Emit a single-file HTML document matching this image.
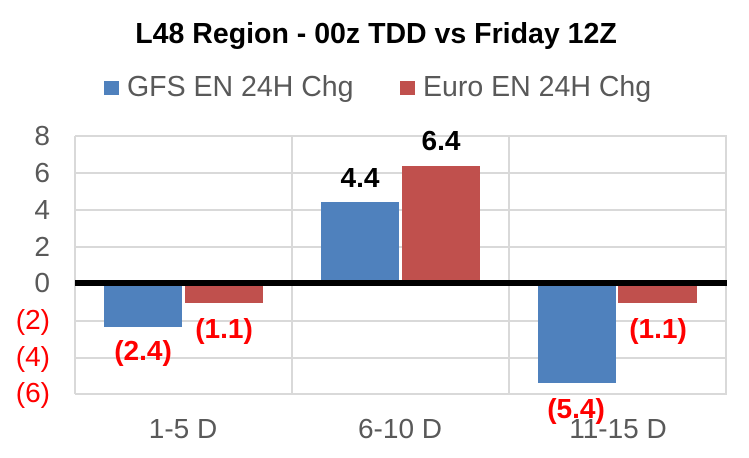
<!DOCTYPE html>
<html><head><meta charset="utf-8"><style>
html,body{margin:0;padding:0;background:#fff;}
svg{display:block;font-family:"Liberation Sans",Arial,sans-serif;}
</style></head><body>
<svg width="749" height="458" viewBox="0 0 749 458" xmlns="http://www.w3.org/2000/svg">
<rect width="749" height="458" fill="#fff"/>
<text x="376" y="43" text-anchor="middle" font-size="28.5" font-weight="bold" fill="#000">L48 Region - 00z TDD vs Friday 12Z</text>
<rect x="104" y="81" width="15" height="14" fill="#4f81bd"/>
<text x="127" y="96" font-size="28.5" fill="#595959">GFS EN 24H Chg</text>
<rect x="400" y="81" width="15" height="14" fill="#c0504d"/>
<text x="423" y="96" font-size="28.5" fill="#595959">Euro EN 24H Chg</text>
<g stroke="#d9d9d9" stroke-width="2" fill="none">
<line x1="75" y1="136" x2="727" y2="136"/>
<line x1="75" y1="173" x2="727" y2="173"/>
<line x1="75" y1="210" x2="727" y2="210"/>
<line x1="75" y1="247" x2="727" y2="247"/>
<line x1="75" y1="321" x2="727" y2="321"/>
<line x1="75" y1="358" x2="727" y2="358"/>
<line x1="75" y1="394" x2="727" y2="394"/>
<line x1="75" y1="136" x2="75" y2="394"/>
<line x1="292" y1="136" x2="292" y2="394"/>
<line x1="509" y1="136" x2="509" y2="394"/>
<line x1="726" y1="136" x2="726" y2="394"/>
</g>
<rect x="104" y="286" width="78" height="41" fill="#4f81bd"/>
<rect x="185" y="286" width="78" height="17" fill="#c0504d"/>
<rect x="321" y="202" width="78" height="78" fill="#4f81bd"/>
<rect x="402" y="166" width="78" height="114" fill="#c0504d"/>
<rect x="538" y="286" width="78" height="97" fill="#4f81bd"/>
<rect x="618" y="286" width="79" height="17" fill="#c0504d"/>
<rect x="75" y="280" width="652" height="6" fill="#000"/>
<g font-size="28" text-anchor="end">
<text x="50" y="145" fill="#595959">8</text>
<text x="50" y="182" fill="#595959">6</text>
<text x="50" y="219" fill="#595959">4</text>
<text x="50" y="256" fill="#595959">2</text>
<text x="50" y="292" fill="#595959">0</text>
<text x="50" y="329" fill="#ff0000">(2)</text>
<text x="50" y="366" fill="#ff0000">(4)</text>
<text x="50" y="402" fill="#ff0000">(6)</text>
</g>
<g font-size="28" text-anchor="middle" fill="#595959">
<text x="183" y="438">1-5 D</text>
<text x="400" y="438">6-10 D</text>
<text x="618" y="438">11-15 D</text>
</g>
<g font-size="28" font-weight="bold" text-anchor="middle">
<text x="360" y="187" fill="#000">4.4</text>
<text x="441" y="150" fill="#000">6.4</text>
<text x="143" y="360" fill="#ff0000">(2.4)</text>
<text x="224" y="338" fill="#ff0000">(1.1)</text>
<text x="576" y="418" fill="#ff0000">(5.4)</text>
<text x="658" y="338" fill="#ff0000">(1.1)</text>
</g>
</svg>
</body></html>
